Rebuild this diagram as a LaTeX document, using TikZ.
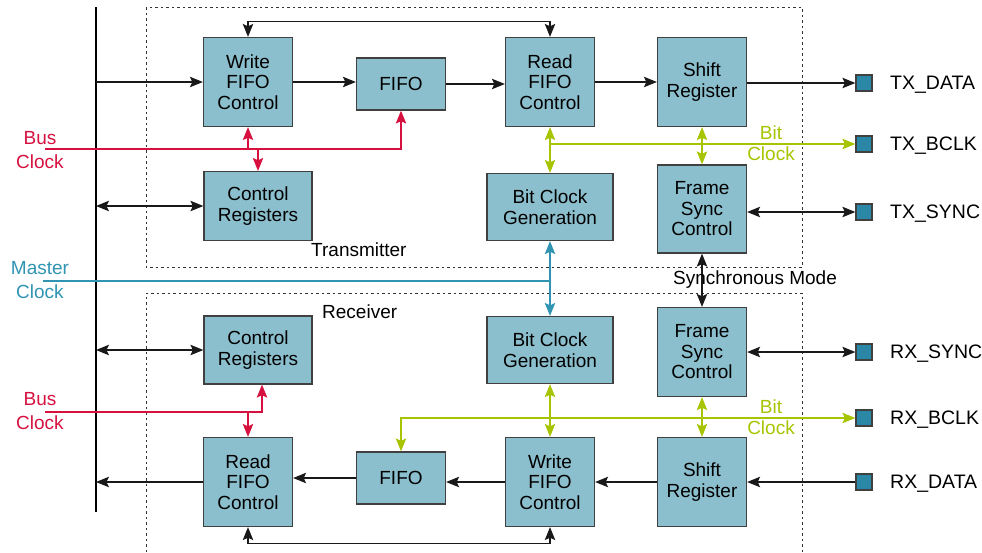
\documentclass[tikz,border=0pt]{standalone}
\usepackage{fontspec}
\setmainfont{Liberation Sans}
\usetikzlibrary{arrows.meta}
\definecolor{blockfill}{RGB}{139,191,205}
\definecolor{pinfill}{RGB}{42,136,166}
\definecolor{busred}{RGB}{214,17,64}
\definecolor{mclk}{RGB}{48,148,178}
\definecolor{bclk}{RGB}{168,196,0}
\tikzset{
  >={Stealth[length=13pt,width=10.5pt,inset=2.5pt]},
  blk/.style={draw=black!75,line width=1.3pt,fill=blockfill,align=center,inner sep=0pt,
    font=\fontsize{19}{20.5}\selectfont,minimum width=89pt,minimum height=89pt},
  fifoblk/.style={blk,minimum height=52pt},
  wideblk/.style={blk,minimum width=108pt,minimum height=68pt},
  bitblk/.style={blk,minimum width=126pt,minimum height=67pt},
  pin/.style={draw=black!75,line width=1.3pt,fill=pinfill,minimum size=16pt,inner sep=0pt},
  pinlabel/.style={font=\fontsize{19.5}{20.5}\selectfont,label distance=14pt,yshift=-2pt},
  txt/.style={align=center,inner sep=0pt,font=\fontsize{19}{24}\selectfont},
  conn/.style={line width=1.1pt,black!90},
  arr/.style={conn,->},
  dbl/.style={conn,<->},
  frame/.style={line width=0.9pt,black!80,dash pattern=on 2.5pt off 3pt}
}
\begin{document}
\begin{tikzpicture}[x=1pt,y=-1pt]
   \useasboundingbox (0,0) rectangle (982,552);
   % dotted frames
   \draw[frame] (146,7) rectangle (802,267);
   \draw[frame] (146,552) -- (146,293) -- (802,293) -- (802,552);
   % bus
   \coordinate (bustop) at (96,7);
   \coordinate (busbot) at (96,512);
   \draw[line width=2.5pt] (bustop) -- (busbot);
   % transmitter blocks
   \node[blk] (wfc) at (248,82) {Write\\FIFO\\Control};
   \node[fifoblk] (fifo) at (401,84) {FIFO};
   \node[blk] (rfc) at (550,82) {Read\\FIFO\\Control};
   \node[blk] (sr) at (702,82) {Shift\\Register};
   \node[wideblk,minimum height=69pt] (creg) at (258,206) {Control\\Registers};
   \node[bitblk] (bcg) at (550,207) {Bit Clock\\Generation};
   \node[blk,minimum height=88pt] (fsc) at (702,209) {Frame\\Sync\\Control};
   % receiver blocks
   \node[wideblk] (rcreg) at (258,350) {Control\\Registers};
   \node[bitblk] (rbcg) at (550,350) {Bit Clock\\Generation};
   \node[blk] (rfsc) at (702,352) {Frame\\Sync\\Control};
   \node[blk] (rrfc) at (248,482) {Read\\FIFO\\Control};
   \node[fifoblk] (rfifo) at (401,478) {FIFO};
   \node[blk] (rwfc) at (550,482) {Write\\FIFO\\Control};
   \node[blk] (rsr) at (702,482) {Shift\\Register};
   % pins
   \foreach \p/\py/\lab in
     {txdata/83/TX\_DATA, txbclk/144/TX\_BCLK, txsync/212/TX\_SYNC,
      rxsync/352/RX\_SYNC, rxbclk/418/RX\_BCLK, rxdata/482/RX\_DATA}
     \node[pin,label={[pinlabel]right:\lab}] (\p) at (864,\py) {};
   % transmitter data path
   \draw[arr] (bustop |- wfc.west) -- (wfc.west);
   \draw[arr] (wfc.east) -- (wfc.east -| fifo.west);
   \draw[arr] (fifo.east) -- (fifo.east -| rfc.west);
   \draw[arr] (rfc.east) -- (rfc.east -| sr.west);
   \draw[arr] (sr.east |- txdata.west) -- (txdata.west);
   \draw[dbl] (wfc.north) -- ++(0,-15) -| (rfc.north);
   \draw[dbl] (bustop |- creg.west) -- (creg.west);
   \draw[dbl] (fsc.east |- txsync.west) -- (txsync.west);
   % receiver data path
   \draw[arr] (rxdata.west) -- (rsr.east |- rxdata.west);
   \draw[arr] (rsr.west) -- (rsr.west -| rwfc.east);
   \draw[arr] (rwfc.west) -- (rwfc.west -| rfifo.east);
   \draw[arr] (rfifo.west) -- (rfifo.west -| rrfc.east);
   \draw[arr] (rrfc.west) -- (bustop |- rrfc.west);
   \draw[dbl] (rrfc.south) -- ++(0,16) -| (rwfc.south);
   \draw[dbl] (bustop |- rcreg.west) -- (rcreg.west);
   \draw[dbl] (rfsc.east |- rxsync.west) -- (rxsync.west);
   % synchronous mode
   \draw[dbl] (fsc.south) -- (rfsc.north);
   \node[txt] (syncmode) at (755,280) {Synchronous Mode};
   \node[txt,anchor=west] (txname) at (311,250) {Transmitter};
   \node[txt,anchor=west] (rxname) at (322,312) {Receiver};
   % bus clock
   \coordinate (bclka) at (45,149);
   \coordinate (bclkb) at (45,412);
   \node[txt,busred] (busclka) at (40,150) {Bus\\Clock};
   \node[txt,busred] (busclkb) at (40,411) {Bus\\Clock};
   \draw[arr,busred] (bclka) -| (fifo.south);
   \draw[arr,busred] (wfc.south |- bclka) -- (wfc.south);
   \draw[arr,busred] (creg.north |- bclka) -- (creg.north);
   \draw[arr,busred] (bclkb) -| ([xshift=4pt]rcreg.south);
   \draw[arr,busred] (rrfc.north |- bclkb) -- (rrfc.north);
   % master clock
   \coordinate (mclka) at (43,281);
   \node[txt,mclk] (mclklabel) at (40,280) {Master\\Clock};
   \draw[conn,mclk] (mclka) -- (mclka -| bcg.south);
   \draw[dbl,mclk] (bcg.south) -- (rbcg.north);
   % bit clock
   \node[txt,bclk,font=\fontsize{19}{21}\selectfont] (bclklabela) at (771,143) {Bit\\Clock};
   \node[txt,bclk,font=\fontsize{19}{21}\selectfont] (bclklabelb) at (771,417) {Bit\\Clock};
   \draw[dbl,bclk] (rfc.south) -- (bcg.north);
   \draw[arr,bclk] (rfc.south |- txbclk.west) -- (txbclk.west);
   \draw[dbl,bclk] (sr.south) -- (fsc.north);
   \draw[dbl,bclk] (rfifo.north) |- (rxbclk.west);
   \draw[dbl,bclk] (rbcg.south) -- (rwfc.north);
   \draw[dbl,bclk] (rfsc.south) -- (rsr.north);
\end{tikzpicture}
\end{document}
